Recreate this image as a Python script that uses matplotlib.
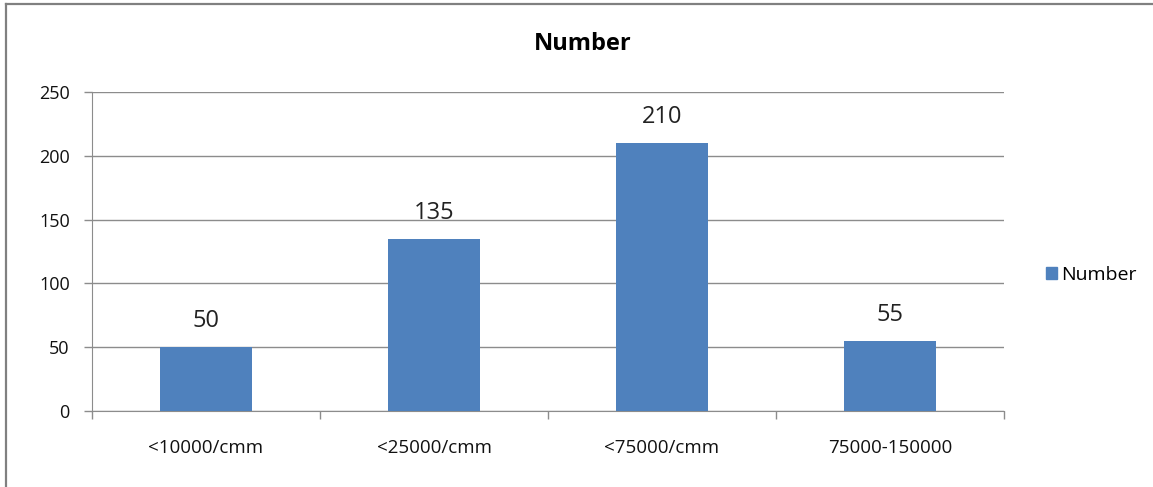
import matplotlib
matplotlib.use("Agg")
import matplotlib.pyplot as plt
from matplotlib.lines import Line2D
from matplotlib.patches import Patch

categories = ["<10000/cmm", "<25000/cmm", "<75000/cmm", "75000-150000"]
values = [50, 135, 210, 55]
series_name = "Number"
y_ticks = [0, 50, 100, 150, 200, 250]

plt.rcParams["font.family"] = ["Open Sans", "DejaVu Sans"]

BAR = "#4F81BD"
GRID = "#8C8C8C"

fig = plt.figure(figsize=(11.53, 4.87), dpi=100)
ax = fig.add_axes([0.0798, 0.156, 0.791, 0.655])

x = list(range(len(categories)))
ax.bar(x, values, width=0.40, color=BAR, zorder=3, label=series_name)
for xi, v in zip(x, values):
    ax.annotate(str(v), (xi, v), xytext=(0, 10), textcoords="offset points",
                ha="center", va="bottom", fontsize=17, color="#222222")

ax.set_xlim(-0.5, len(categories) - 0.5)
ax.set_ylim(0, 250)
ax.set_yticks(y_ticks)
ax.tick_params(axis="y", length=6, width=1, color=GRID, labelsize=13,
               pad=10, labelcolor="#111111")
ax.yaxis.grid(True, color=GRID, linewidth=1, zorder=0)

# category labels between boundary ticks
ax.set_xticks([i - 0.5 for i in range(len(categories) + 1)])
ax.set_xticklabels([])
ax.set_xticks(x, minor=True)
ax.set_xticklabels(categories, minor=True, fontsize=13.5, color="#111111")
ax.tick_params(axis="x", which="major", length=6, width=1, color=GRID)
ax.tick_params(axis="x", which="minor", length=0, pad=20)

for side in ("top", "right"):
    ax.spines[side].set_visible(False)
for side in ("left", "bottom"):
    ax.spines[side].set_color(GRID)

fig.text(0.505, 0.91, series_name, ha="center", va="center",
         fontsize=17, fontweight="bold")

handle = Patch(facecolor=BAR, edgecolor=BAR)
fig.legend([handle], [series_name], loc="center left",
           bbox_to_anchor=(0.892, 0.436), frameon=False, fontsize=14,
           handlelength=0.55, handleheight=0.55, handletextpad=0.25)

# chart frame
fig.add_artist(Line2D([0.0055, 1.0], [0.991, 0.991], color="#808080",
                      linewidth=1.6, transform=fig.transFigure))
fig.add_artist(Line2D([0.0055, 0.0055], [0.0, 0.991], color="#808080",
                      linewidth=1.6, transform=fig.transFigure))

fig.savefig("out.png", dpi=100)
